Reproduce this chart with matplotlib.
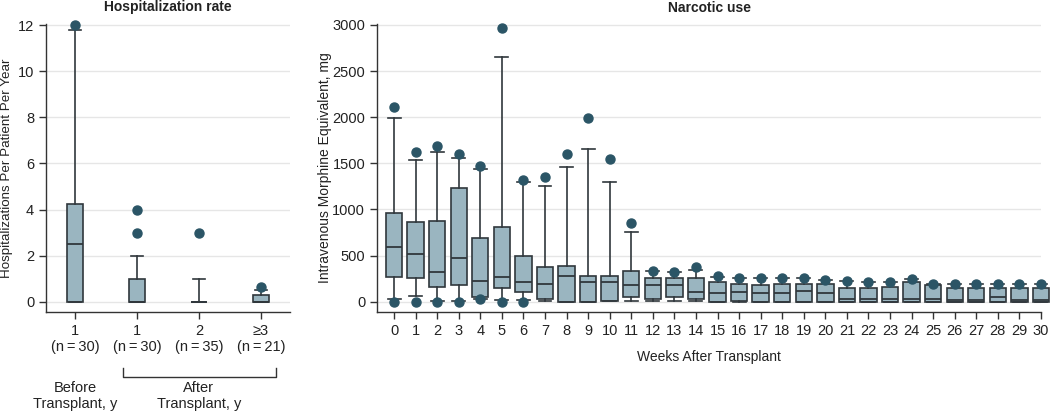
import matplotlib
matplotlib.use("Agg")
import matplotlib.pyplot as plt
from matplotlib import font_manager
from matplotlib.transforms import blended_transform_factory

# ---------------- data ----------------
hosp_labels = ["1\n(n\u2009=\u200930)", "1\n(n\u2009=\u200930)", "2\n(n\u2009=\u200935)", "≥3\n(n\u2009=\u200921)"]
hosp_q1 = [0, 0, 0, 0]
hosp_med = [2.52, 0, 0, 0]
hosp_q3 = [4.25, 1.0, 0, 0.29]
hosp_whislo = [0, 0, 0, 0]
hosp_whishi = [11.78, 2.0, 1.0, 0.53]
hosp_fliers = [[12], [3, 4], [3], [0.62]]

weeks = list(range(31))
narc_q1 = [271, 257, 155, 177, 47, 145, 101, 29, 0, 0, 11, 47, 25, 47, 29,
           0, 11, 0, 0, 0, 0, 0, 0, 0, 0, 0, 0, 0, 0, 0, 0]
narc_med = [589, 520, 322, 477, 224, 267, 213, 192, 278, 210, 210, 177, 177, 177, 101,
            90, 101, 90, 90, 116, 90, 33, 33, 33, 33, 33, 22, 22, 47, 22, 22]
narc_q3 = [965, 864, 875, 1236, 687, 806, 499, 376, 387, 278, 278, 332, 257, 257, 260,
           210, 188, 177, 188, 188, 188, 145, 145, 155, 210, 177, 145, 145, 145, 145, 145]
narc_whislo = [33, 61, 6, 6, 30, 15, 15, 4, 0, 0, 4, 4, 4, 4, 4,
               0, 0, 0, 0, 0, 0, 0, 0, 0, 0, 0, 0, 0, 0, 0, 0]
narc_whishi = [1991, 1536, 1623, 1561, 1435, 2649, 1301, 1258, 1456, 1655, 1301, 752, 336, 318, 343,
               271, 253, 260, 260, 260, 231, 224, 213, 213, 249, 188, 188, 188, 188, 188, 188]
narc_fliers = [[2114, 0], [1623, 0], [1684, 0], [1605, 0], [1467, 25], [2971, 0], [1315, 0],
               [1355], [1605], [1988], [1543], [857], [336], [325], [379],
               [282], [260], [260], [260], [260], [231], [224], [213], [213], [249],
               [188], [188], [188], [188], [188], [188]]

# ---------------- style ----------------
avail = {f.name for f in font_manager.fontManager.ttflist}
fam = ["Liberation Sans Narrow", "DejaVu Sans"] if "Liberation Sans Narrow" in avail else ["Liberation Sans", "DejaVu Sans"]
plt.rcParams["font.family"] = fam

FILL = "#9ab5c0"
EDGE = "#30373c"
DOT = "#2b5566"
GRID = "#e6e6e6"
TXT = "#222222"

boxprops = dict(facecolor=FILL, edgecolor=EDGE, linewidth=1.2)
lineprops = dict(color=EDGE, linewidth=1.2)
medprops = dict(color=EDGE, linewidth=1.3)
flierprops = dict(marker="o", markerfacecolor=DOT, markeredgecolor=DOT, markersize=6.5, linestyle="none")


def make_stats(q1, med, q3, lo, hi, fl):
    return [dict(q1=a, med=b, q3=c, whislo=d, whishi=e, fliers=f)
            for a, b, c, d, e, f in zip(q1, med, q3, lo, hi, fl)]


def style_axes(ax, labelsize):
    for s in ["top", "right"]:
        ax.spines[s].set_visible(False)
    for s in ["left", "bottom"]:
        ax.spines[s].set_color("#333333")
        ax.spines[s].set_linewidth(1.0)
    ax.tick_params(axis="both", direction="out", length=5, width=1.0, color="#333333",
                   labelsize=labelsize, labelcolor=TXT)
    ax.yaxis.grid(True, color=GRID, linewidth=1.0)
    ax.set_axisbelow(True)


def unclip(ax):
    for art in ax.get_children():
        try:
            art.set_clip_on(False)
        except Exception:
            pass


fig = plt.figure(figsize=(10.5, 4.11), dpi=100)

# ---------------- left panel ----------------
ax1 = fig.add_axes([46 / 1050, 1 - 311.7 / 411, 244 / 1050, (311.7 - 24) / 411])
pos1 = list(range(len(hosp_labels)))
ax1.bxp(make_stats(hosp_q1, hosp_med, hosp_q3, hosp_whislo, hosp_whishi, hosp_fliers),
        positions=pos1, widths=0.26, patch_artist=True, showfliers=True,
        boxprops=boxprops, whiskerprops=lineprops, capprops=lineprops,
        medianprops=medprops, flierprops=flierprops, capwidths=0.2)
unclip(ax1)
ax1.set_xlim(-0.47, 3.47)
ax1.set_ylim(-0.43, 12.05)
ax1.set_yticks([0, 2, 4, 6, 8, 10, 12])
ax1.set_xticks(pos1)
ax1.set_xticklabels(hosp_labels, linespacing=1.2)
style_axes(ax1, 10.5)
ax1.set_ylabel("Hospitalizations Per Patient Per Year", fontsize=9.6, color=TXT)
ax1.yaxis.set_label_coords(-0.137, 0.5)
ax1.set_title("Hospitalization rate", fontsize=10, fontweight="bold", color=TXT, pad=9)

# group labels below left panel
tr = blended_transform_factory(ax1.transData, fig.transFigure)
ax1.text(0, 1 - 396 / 411, "Before\nTransplant, y", transform=tr, ha="center", va="center",
         fontsize=10.5, color=TXT, linespacing=1.15)
ax1.text(2.0, 1 - 396 / 411, "After\nTransplant, y", transform=tr, ha="center", va="center",
         fontsize=10.5, color=TXT, linespacing=1.15)
# bracket
yb = 1 - 377 / 411
ytk = 1 - 368 / 411
ax1.plot([123 / 1050, 123 / 1050, 276 / 1050, 276 / 1050], [ytk, yb, yb, ytk],
         transform=fig.transFigure, color="#333333", linewidth=1.0, clip_on=False)

# ---------------- right panel ----------------
ax2 = fig.add_axes([377 / 1050, 1 - 311.7 / 411, 664 / 1050, (311.7 - 24) / 411])
ax2.bxp(make_stats(narc_q1, narc_med, narc_q3, narc_whislo, narc_whishi, narc_fliers),
        positions=weeks, widths=0.76, patch_artist=True, showfliers=True,
        boxprops=boxprops, whiskerprops=lineprops, capprops=lineprops,
        medianprops=medprops, flierprops=flierprops, capwidths=0.6)
unclip(ax2)
ax2.set_xlim(-0.79, 30.0)
ax2.set_ylim(-109, 3010)
ax2.set_yticks([0, 500, 1000, 1500, 2000, 2500, 3000])
ax2.set_xticks(weeks)
ax2.set_xticklabels([str(w) for w in weeks])
style_axes(ax2, 10.5)
ax2.set_ylabel("Intravenous Morphine Equivalent, mg", fontsize=10, color=TXT)
ax2.yaxis.set_label_coords(-0.068, 0.5)
ax2.set_xlabel("Weeks After Transplant", fontsize=10, color=TXT, labelpad=9)
ax2.set_title("Narcotic use", fontsize=10, fontweight="bold", color=TXT, pad=9)

fig.savefig("out.png", dpi=100)
